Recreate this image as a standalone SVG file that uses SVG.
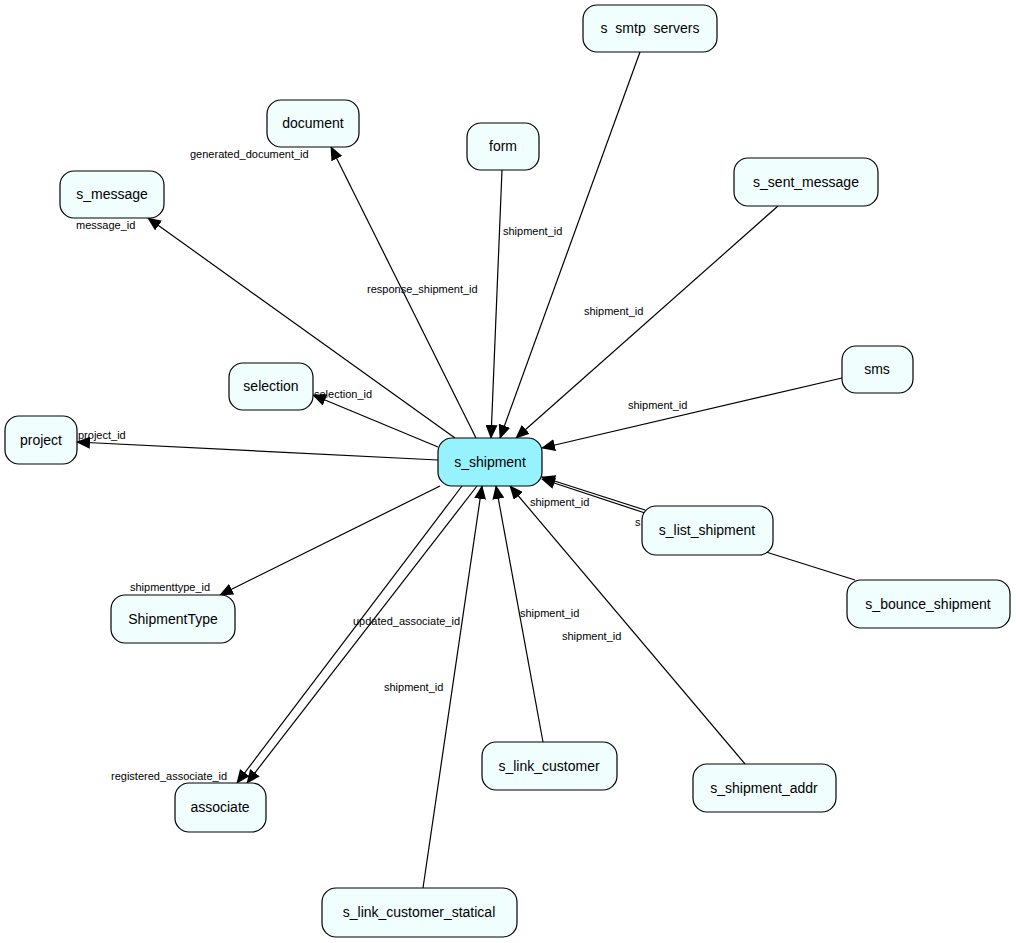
<svg xmlns="http://www.w3.org/2000/svg" width="1016" height="943" viewBox="0 0 1016 943">
<style>
.n rect{fill:#f0fefe;stroke:#000;stroke-width:1.2}
.c rect{fill:#96f3fd}
text{font-family:"Liberation Sans",Arial,sans-serif}
.t{font-size:14px;text-anchor:middle;dominant-baseline:central}
.l{font-size:11px}
.e line{stroke:#000;stroke-width:1.2;marker-end:url(#a)}
.e line.p{marker-end:none}
</style>
<defs><marker id="a" markerUnits="userSpaceOnUse" markerWidth="14" markerHeight="12" refX="13" refY="6" orient="auto"><path d="M0,0L14,6L0,12z" fill="#000"/></marker></defs>
<rect width="1016" height="943" fill="#fff"/>
<g class="e" id="connectors">
<line x1="476" y1="438" x2="331" y2="147"/>
<line x1="455" y1="438" x2="148" y2="218"/>
<line x1="438" y1="447" x2="313" y2="395"/>
<line x1="438" y1="460" x2="77" y2="442"/>
<line x1="440" y1="486" x2="220" y2="595"/>
<line x1="462" y1="486" x2="237" y2="783"/>
<line x1="477" y1="486" x2="247" y2="783"/>
<line x1="502" y1="170" x2="491" y2="438"/>
<line x1="640" y1="52" x2="500" y2="438"/>
<line x1="778" y1="206" x2="516" y2="438"/>
<line x1="842" y1="378" x2="542" y2="448"/>
<line x1="645" y1="513" x2="542" y2="479"/>
<line x1="855" y1="580" x2="766" y2="552" class="p"/>
<line x1="645" y1="510" x2="542" y2="477"/>
<line x1="543" y1="742" x2="496" y2="486"/>
<line x1="745" y1="764" x2="510" y2="486"/>
<line x1="423" y1="888" x2="482" y2="486"/>
</g>
<g class="l">
<text x="190" y="158">generated_document_id</text>
<text x="367" y="293">response_shipment_id</text>
<text x="76" y="229">message_id</text>
<text x="314" y="398">selection_id</text>
<text x="78" y="439">project_id</text>
<text x="130" y="591">shipmenttype_id</text>
<text x="111" y="780">registered_associate_id</text>
<text x="353" y="625">updated_associate_id</text>
<text x="503" y="235">shipment_id</text>
<text x="584" y="315">shipment_id</text>
<text x="628" y="409">shipment_id</text>
<text x="530" y="506">shipment_id</text>
<text x="635" y="526">s</text>
<text x="520" y="617">shipment_id</text>
<text x="562" y="640">shipment_id</text>
<text x="384" y="691">shipment_id</text>
</g>
<g id="s_shipment" class="n c"><rect x="438" y="438" width="104" height="48" rx="14"/><text class="t" x="490" y="462">s_shipment</text></g>
<g id="s_smtp_servers" class="n"><rect x="583" y="5" width="134" height="47" rx="14"/><text class="t" x="650" y="28" xml:space="preserve">s  smtp  servers</text></g>
<g id="document" class="n"><rect x="267" y="100" width="92" height="47" rx="14"/><text class="t" x="313" y="123">document</text></g>
<g id="form" class="n"><rect x="467" y="123" width="72" height="47" rx="14"/><text class="t" x="503" y="146">form</text></g>
<g id="s_sent_message" class="n"><rect x="734" y="158" width="144" height="48" rx="14"/><text class="t" x="806" y="182">s_sent_message</text></g>
<g id="s_message" class="n"><rect x="60" y="171" width="104" height="47" rx="14"/><text class="t" x="112" y="194">s_message</text></g>
<g id="sms" class="n"><rect x="842" y="346" width="71" height="47" rx="14"/><text class="t" x="877" y="369">sms</text></g>
<g id="selection" class="n"><rect x="229" y="363" width="84" height="47" rx="14"/><text class="t" x="271" y="386">selection</text></g>
<g id="project" class="n"><rect x="5" y="416" width="72" height="48" rx="14"/><text class="t" x="41" y="440">project</text></g>
<g id="s_list_shipment" class="n"><rect x="642" y="506" width="131" height="49" rx="14"/><text class="t" x="707" y="530">s_list_shipment</text></g>
<g id="s_bounce_shipment" class="n"><rect x="847" y="580" width="163" height="48" rx="14"/><text class="t" x="928" y="604">s_bounce_shipment</text></g>
<g id="ShipmentType" class="n"><rect x="111" y="595" width="124" height="48" rx="14"/><text class="t" x="173" y="619">ShipmentType</text></g>
<g id="s_link_customer" class="n"><rect x="482" y="742" width="135" height="48" rx="14"/><text class="t" x="549" y="766">s_link_customer</text></g>
<g id="s_shipment_addr" class="n"><rect x="693" y="764" width="143" height="48" rx="14"/><text class="t" x="764" y="788">s_shipment_addr</text></g>
<g id="associate" class="n"><rect x="175" y="783" width="91" height="49" rx="14"/><text class="t" x="220" y="807">associate</text></g>
<g id="s_link_customer_statical" class="n"><rect x="322" y="888" width="195" height="49" rx="14"/><text class="t" x="419" y="912">s_link_customer_statical</text></g>
</svg>
